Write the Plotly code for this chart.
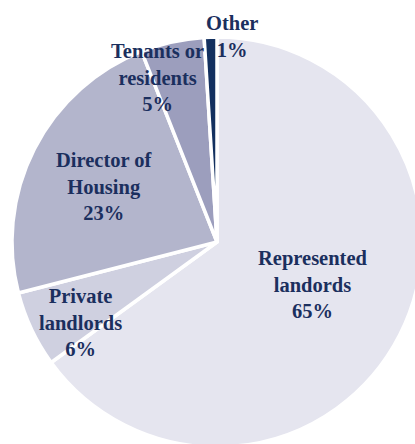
import plotly.graph_objects as go

# Shares of complaints by party (per cent)
labels = ["Represented landords", "Private landlords", "Director of Housing",
          "Tenants or residents", "Other"]
label_lines = [["Represented", "landords"], ["Private", "landlords"],
               ["Director of", "Housing"], ["Tenants or", "residents"], ["Other"]]
values = [65, 6, 23, 5, 1]
colors = ["#e5e5ef", "#cfd0e0", "#b3b5cc", "#9c9ebd", "#13305f"]

W, H = 430, 450
CX, CY, R = 217, 242, 205
TEXT = "#1b2f5e"
FONT = "Liberation Serif"

fig = go.Figure(go.Pie(
    labels=labels,
    values=values,
    sort=False,
    direction="clockwise",
    rotation=0,
    marker=dict(colors=colors, line=dict(color="white", width=3.5)),
    textinfo="none",
    hoverinfo="label+percent",
    domain=dict(x=[(CX - R) / W, (CX + R) / W],
                y=[(H - CY - R) / H, (H - CY + R) / H]),
    showlegend=False,
))

# label block centres (pixels)
label_pos = [(313, 284), (80, 322), (104, 186), (157, 77), (232, 37)]
annotations = []
for lines, v, (px, py) in zip(label_lines, values, label_pos):
    annotations.append(dict(
        text="<br>".join(lines + [f"{v}%"]),
        x=px / W, y=1 - py / H, xref="paper", yref="paper",
        xanchor="center", yanchor="middle", showarrow=False,
        font=dict(family=FONT, size=20.5, color=TEXT, weight="bold"),
        align="center",
    ))

fig.update_layout(
    width=W, height=H,
    margin=dict(l=0, r=0, t=0, b=0),
    paper_bgcolor="white",
    plot_bgcolor="white",
    annotations=annotations,
)

fig.write_html(
    "out.html",
    post_script="document.body.style.margin='0';"
                "document.body.style.overflow='hidden';"
                "document.documentElement.style.overflow='hidden';",
)
